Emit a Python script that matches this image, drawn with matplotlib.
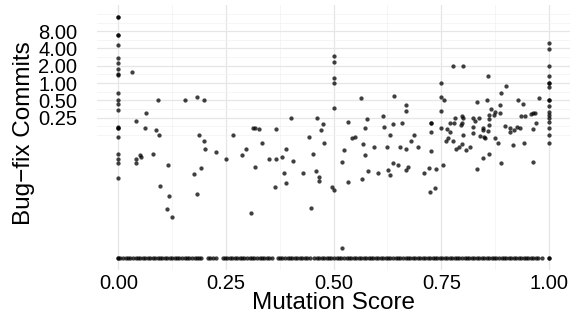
import numpy as np
import matplotlib.pyplot as plt
from matplotlib.ticker import NullFormatter

plt.rcParams['font.family'] = ['Liberation Sans', 'DejaVu Sans']

# files whose mutation score sits exactly on 0, 0.5 and 1
commits_at_0 = [14, 14, 7.0, 7.0, 4.6, 2.77, 2.24, 1.74, 1.46, 1.38, 0.68,
                0.50, 0.43, 0.336, 0.172, 0.165, 0.165, 0.115, 0.058, 0.048,
                0.041, 0.022]
commits_at_half = [2.96, 2.30, 1.24, 1.0, 0.37]
commits_at_1 = [4.9, 3.9, 2.0, 1.31, 1.0, 1.0, 0.85, 0.5, 0.5, 0.40, 0.32,
                0.28, 0.245, 0.21, 0.166, 0.124, 0.09]

# everything in between (score, commits)
mid_score = [
    0.031, 0.091, 0.154, 0.182, 0.200, 0.064, 0.042, 0.063, 0.087, 0.095,
    0.187, 0.200, 0.201, 0.227, 0.266, 0.250, 0.287, 0.296, 0.312, 0.318,
    0.326, 0.318, 0.050, 0.053, 0.041, 0.040, 0.081, 0.116, 0.191, 0.175,
    0.096, 0.118, 0.183, 0.114, 0.125, 0.309,
    0.366, 0.400, 0.461, 0.475, 0.471, 0.442, 0.333, 0.389, 0.453, 0.349,
    0.367, 0.379, 0.406, 0.384, 0.430, 0.459, 0.465, 0.466, 0.389, 0.365,
    0.447, 0.478,
    0.563, 0.641, 0.667, 0.667, 0.578, 0.533, 0.615, 0.572, 0.617, 0.637,
    0.659, 0.632, 0.687, 0.542, 0.550, 0.569, 0.680, 0.523, 0.593, 0.625,
    0.655, 0.667, 0.572, 0.520, 0.637, 0.649, 0.672, 0.667, 0.626, 0.602,
    0.579, 0.631, 0.533, 0.565, 0.497, 0.502, 0.519, 0.697,
    0.778, 0.800, 0.858, 0.901, 0.889, 0.750, 0.750, 0.750, 0.750, 0.756,
    0.834, 0.855, 0.886, 0.865, 0.875, 0.887, 0.860, 0.873, 0.861, 0.838,
    0.824, 0.829, 0.797, 0.800, 0.781, 0.779, 0.799, 0.770, 0.795, 0.860,
    0.726, 0.726, 0.726, 0.763, 0.770, 0.824, 0.847, 0.847, 0.858, 0.823,
    0.800, 0.849, 0.851, 0.841, 0.875, 0.882, 0.899, 0.909, 0.918, 0.909,
    0.925, 0.933, 0.964, 0.969, 0.929, 0.940, 0.936, 0.944, 0.959, 0.964,
    0.968, 0.977, 0.916, 0.941, 0.760, 0.778, 0.783, 0.791, 0.797, 0.808,
    0.817, 0.726, 0.846, 0.861, 0.833, 0.889, 0.962, 0.755, 0.721, 0.737,
    0.710, 0.735, 0.724, 0.766]
mid_commits = [
    1.56, 0.50, 0.50, 0.57, 0.50, 0.30, 0.22, 0.167, 0.150, 0.125,
    0.125, 0.0995, 0.070, 0.0625, 0.125, 0.047, 0.055, 0.071, 0.166, 0.166,
    0.157, 0.034, 0.055, 0.052, 0.047, 0.040, 0.058, 0.037, 0.033, 0.0265,
    0.016, 0.0108, 0.0117, 0.0064, 0.0047, 0.0055,
    0.157, 0.25, 0.25, 0.192, 0.153, 0.117, 0.091, 0.070, 0.059, 0.048,
    0.048, 0.052, 0.0436, 0.027, 0.027, 0.029, 0.0235, 0.020, 0.0185, 0.0157,
    0.0068, 0.091,
    0.55, 0.60, 0.41, 0.33, 0.24, 0.21, 0.27, 0.166, 0.172, 0.192,
    0.205, 0.125, 0.125, 0.112, 0.114, 0.088, 0.0995, 0.068, 0.077, 0.077,
    0.077, 0.070, 0.0555, 0.042, 0.040, 0.038, 0.034, 0.031, 0.031, 0.0276,
    0.030, 0.0249, 0.0192, 0.0217, 0.0156, 0.014, 0.00137, 0.077,
    2.0, 2.0, 1.32, 0.88, 0.66, 1.0, 0.57, 0.33, 0.166, 0.5,
    0.46, 0.5, 0.415, 0.35, 0.32, 0.30, 0.28, 0.28, 0.24, 0.25,
    0.25, 0.217, 0.27, 0.25, 0.25, 0.205, 0.2, 0.2, 0.19, 0.19,
    0.2, 0.2, 0.143, 0.159, 0.143, 0.172, 0.167, 0.151, 0.149, 0.134,
    0.125, 0.114, 0.110, 0.118, 0.111, 0.091, 0.181, 0.166, 0.154, 0.140,
    0.172, 0.166, 0.159, 0.2, 0.5, 0.43, 0.27, 0.27, 0.29, 0.30,
    0.30, 0.54, 0.085, 0.091, 0.0995, 0.0995, 0.071, 0.077, 0.086, 0.068,
    0.077, 0.067, 0.049, 0.058, 0.032, 0.0406, 0.042, 0.037, 0.033, 0.032,
    0.0276, 0.0148, 0.0128, 0.112]

# files with no bug-fix commit, drawn on the floor of the log axis
zero_level = 0.0009
zero_score = [
    0.000, 0.000, 0.005, 0.011, 0.017, 0.022, 0.028, 0.034, 0.040, 0.045,
    0.051, 0.057, 0.062, 0.068, 0.074, 0.080, 0.085, 0.091, 0.097, 0.102,
    0.108, 0.114, 0.120, 0.125, 0.131, 0.137, 0.142, 0.148, 0.154, 0.160,
    0.165, 0.171, 0.177, 0.182, 0.188, 0.193, 0.209, 0.214, 0.220, 0.226,
    0.242, 0.248, 0.253, 0.259, 0.265, 0.271, 0.276, 0.282, 0.288, 0.293,
    0.299, 0.305, 0.311, 0.316, 0.322, 0.328, 0.333, 0.339, 0.345, 0.351,
    0.356, 0.370, 0.375, 0.381, 0.387, 0.393, 0.398, 0.404, 0.410, 0.415,
    0.421, 0.427, 0.433, 0.438, 0.444, 0.455, 0.461, 0.467, 0.472, 0.478,
    0.484, 0.490, 0.495, 0.501, 0.507, 0.512, 0.518, 0.524, 0.530, 0.535,
    0.541, 0.547, 0.552, 0.558, 0.564, 0.570, 0.575, 0.581, 0.587, 0.592,
    0.598, 0.604, 0.610, 0.615, 0.621, 0.627, 0.632, 0.638, 0.644, 0.650,
    0.655, 0.661, 0.667, 0.672, 0.678, 0.684, 0.690, 0.695, 0.701, 0.707,
    0.712, 0.718, 0.724, 0.730, 0.735, 0.741, 0.747, 0.752, 0.758, 0.764,
    0.770, 0.775, 0.781, 0.787, 0.792, 0.798, 0.804, 0.810, 0.815, 0.821,
    0.827, 0.832, 0.838, 0.844, 0.850, 0.855, 0.861, 0.867, 0.872, 0.878,
    0.884, 0.890, 0.895, 0.901, 0.907, 0.912, 0.918, 0.924, 0.930, 0.935,
    0.941, 0.947, 0.952, 0.958, 0.964, 0.970, 0.975, 0.985, 1.000, 1.000]

x_ticks = [0.0, 0.25, 0.5, 0.75, 1.0]
x_minor = [0.125, 0.375, 0.625, 0.875]
y_ticks = [0.25, 0.5, 1, 2, 4, 8]
y_minor = [0.125, 0.177, 0.354, 0.707, 1.414, 2.83, 5.66, 11.3, 16]

x = np.concatenate([np.zeros(len(commits_at_0)), np.full(len(commits_at_half), 0.5),
                    np.ones(len(commits_at_1)), mid_score, zero_score])
y = np.concatenate([commits_at_0, commits_at_half, commits_at_1, mid_commits,
                    np.full(len(zero_score), zero_level)])

fig = plt.figure(figsize=(5.71, 3.25), dpi=100)
ax = fig.add_axes([0.1695, 0.1683, 0.8296, 0.8155])

ax.scatter(x, y, s=9.5, color='black', alpha=0.75, linewidths=0, zorder=3)

ax.set_yscale('log', base=2)
ax.set_xlim(-0.05, 1.05)
ax.set_ylim(0.000553, 22.6)

ax.set_xticks(x_ticks)
ax.set_xticklabels(['%.2f' % v for v in x_ticks])
ax.set_xticks(x_minor, minor=True)
ax.set_yticks(y_ticks)
ax.set_yticklabels(['%.2f' % v for v in y_ticks])
ax.set_yticks(y_minor, minor=True)
ax.yaxis.set_minor_formatter(NullFormatter())
ax.xaxis.set_minor_formatter(NullFormatter())

ax.grid(which='major', color='#E6E6E6', linewidth=0.9)
ax.grid(which='minor', color='#F1F1F1', linewidth=0.5)
ax.set_axisbelow(True)
for s in ax.spines.values():
    s.set_visible(False)
ax.tick_params(which='both', length=0)
ax.tick_params(axis='y', labelsize=14.5, pad=14, labelcolor='black')
ax.tick_params(axis='x', labelsize=14.5, pad=2.5, labelcolor='black')

fig.text(0.5835, 0.068, 'Mutation Score', ha='center', va='center', fontsize=17.5)
fig.text(0.042, 0.59, 'Bug\u2212fix Commits', ha='center', va='center',
         rotation=90, fontsize=17.5)

plt.savefig('out.png', dpi=100)
